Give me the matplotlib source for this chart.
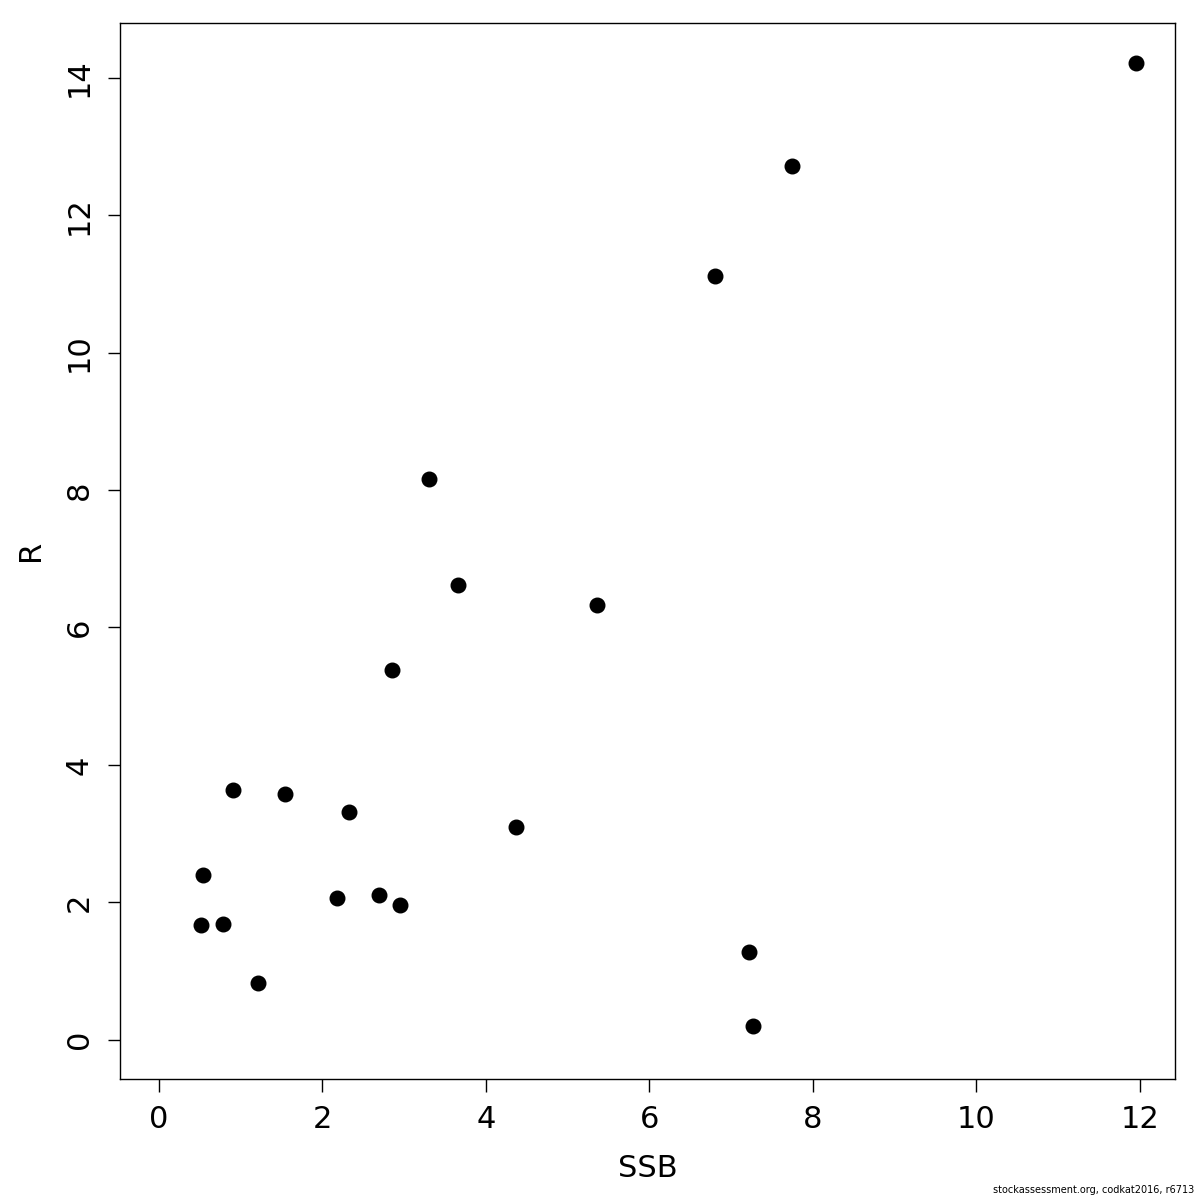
import matplotlib
matplotlib.use("Agg")
import matplotlib.pyplot as plt

# Stock-recruitment pairs
ssb = [0.51, 0.54, 0.78, 0.91, 1.21, 1.54, 2.18, 2.32, 2.69, 2.95,
       2.85, 3.30, 3.66, 4.37, 5.36, 6.80, 7.22, 7.27, 7.74, 11.96]
rec = [1.67, 2.40, 1.69, 3.64, 0.83, 3.58, 2.07, 3.32, 2.11, 1.96,
       5.38, 8.16, 6.62, 3.10, 6.33, 11.12, 1.28, 0.20, 12.72, 14.22]

xticks = [0, 2, 4, 6, 8, 10, 12]
yticks = [0, 2, 4, 6, 8, 10, 12, 14]

fig = plt.figure(figsize=(12, 12), dpi=100)
ax = fig.add_axes([0.1, 0.101, 0.879, 0.880])

ax.scatter(ssb, rec, s=110, color="black", zorder=3)

ax.set_xlim(-0.477, 12.43)
ax.set_ylim(-0.568, 14.80)
ax.set_xticks(xticks)
ax.set_yticks(yticks)
ax.set_xticklabels([str(t) for t in xticks], fontsize=22)
ax.set_yticklabels([str(t) for t in yticks], fontsize=22, rotation=90, va="center")
ax.tick_params(direction="out", length=9, width=1, pad=10)
for s in ax.spines.values():
    s.set_linewidth(1)

ax.set_xlabel("SSB", fontsize=22, labelpad=14)
ax.set_ylabel("R", fontsize=22, labelpad=14)

fig.text(0.995, 0.004, "stockassessment.org, codkat2016, r6713",
         ha="right", va="bottom", fontsize=7)

fig.savefig("out.png", dpi=100)
